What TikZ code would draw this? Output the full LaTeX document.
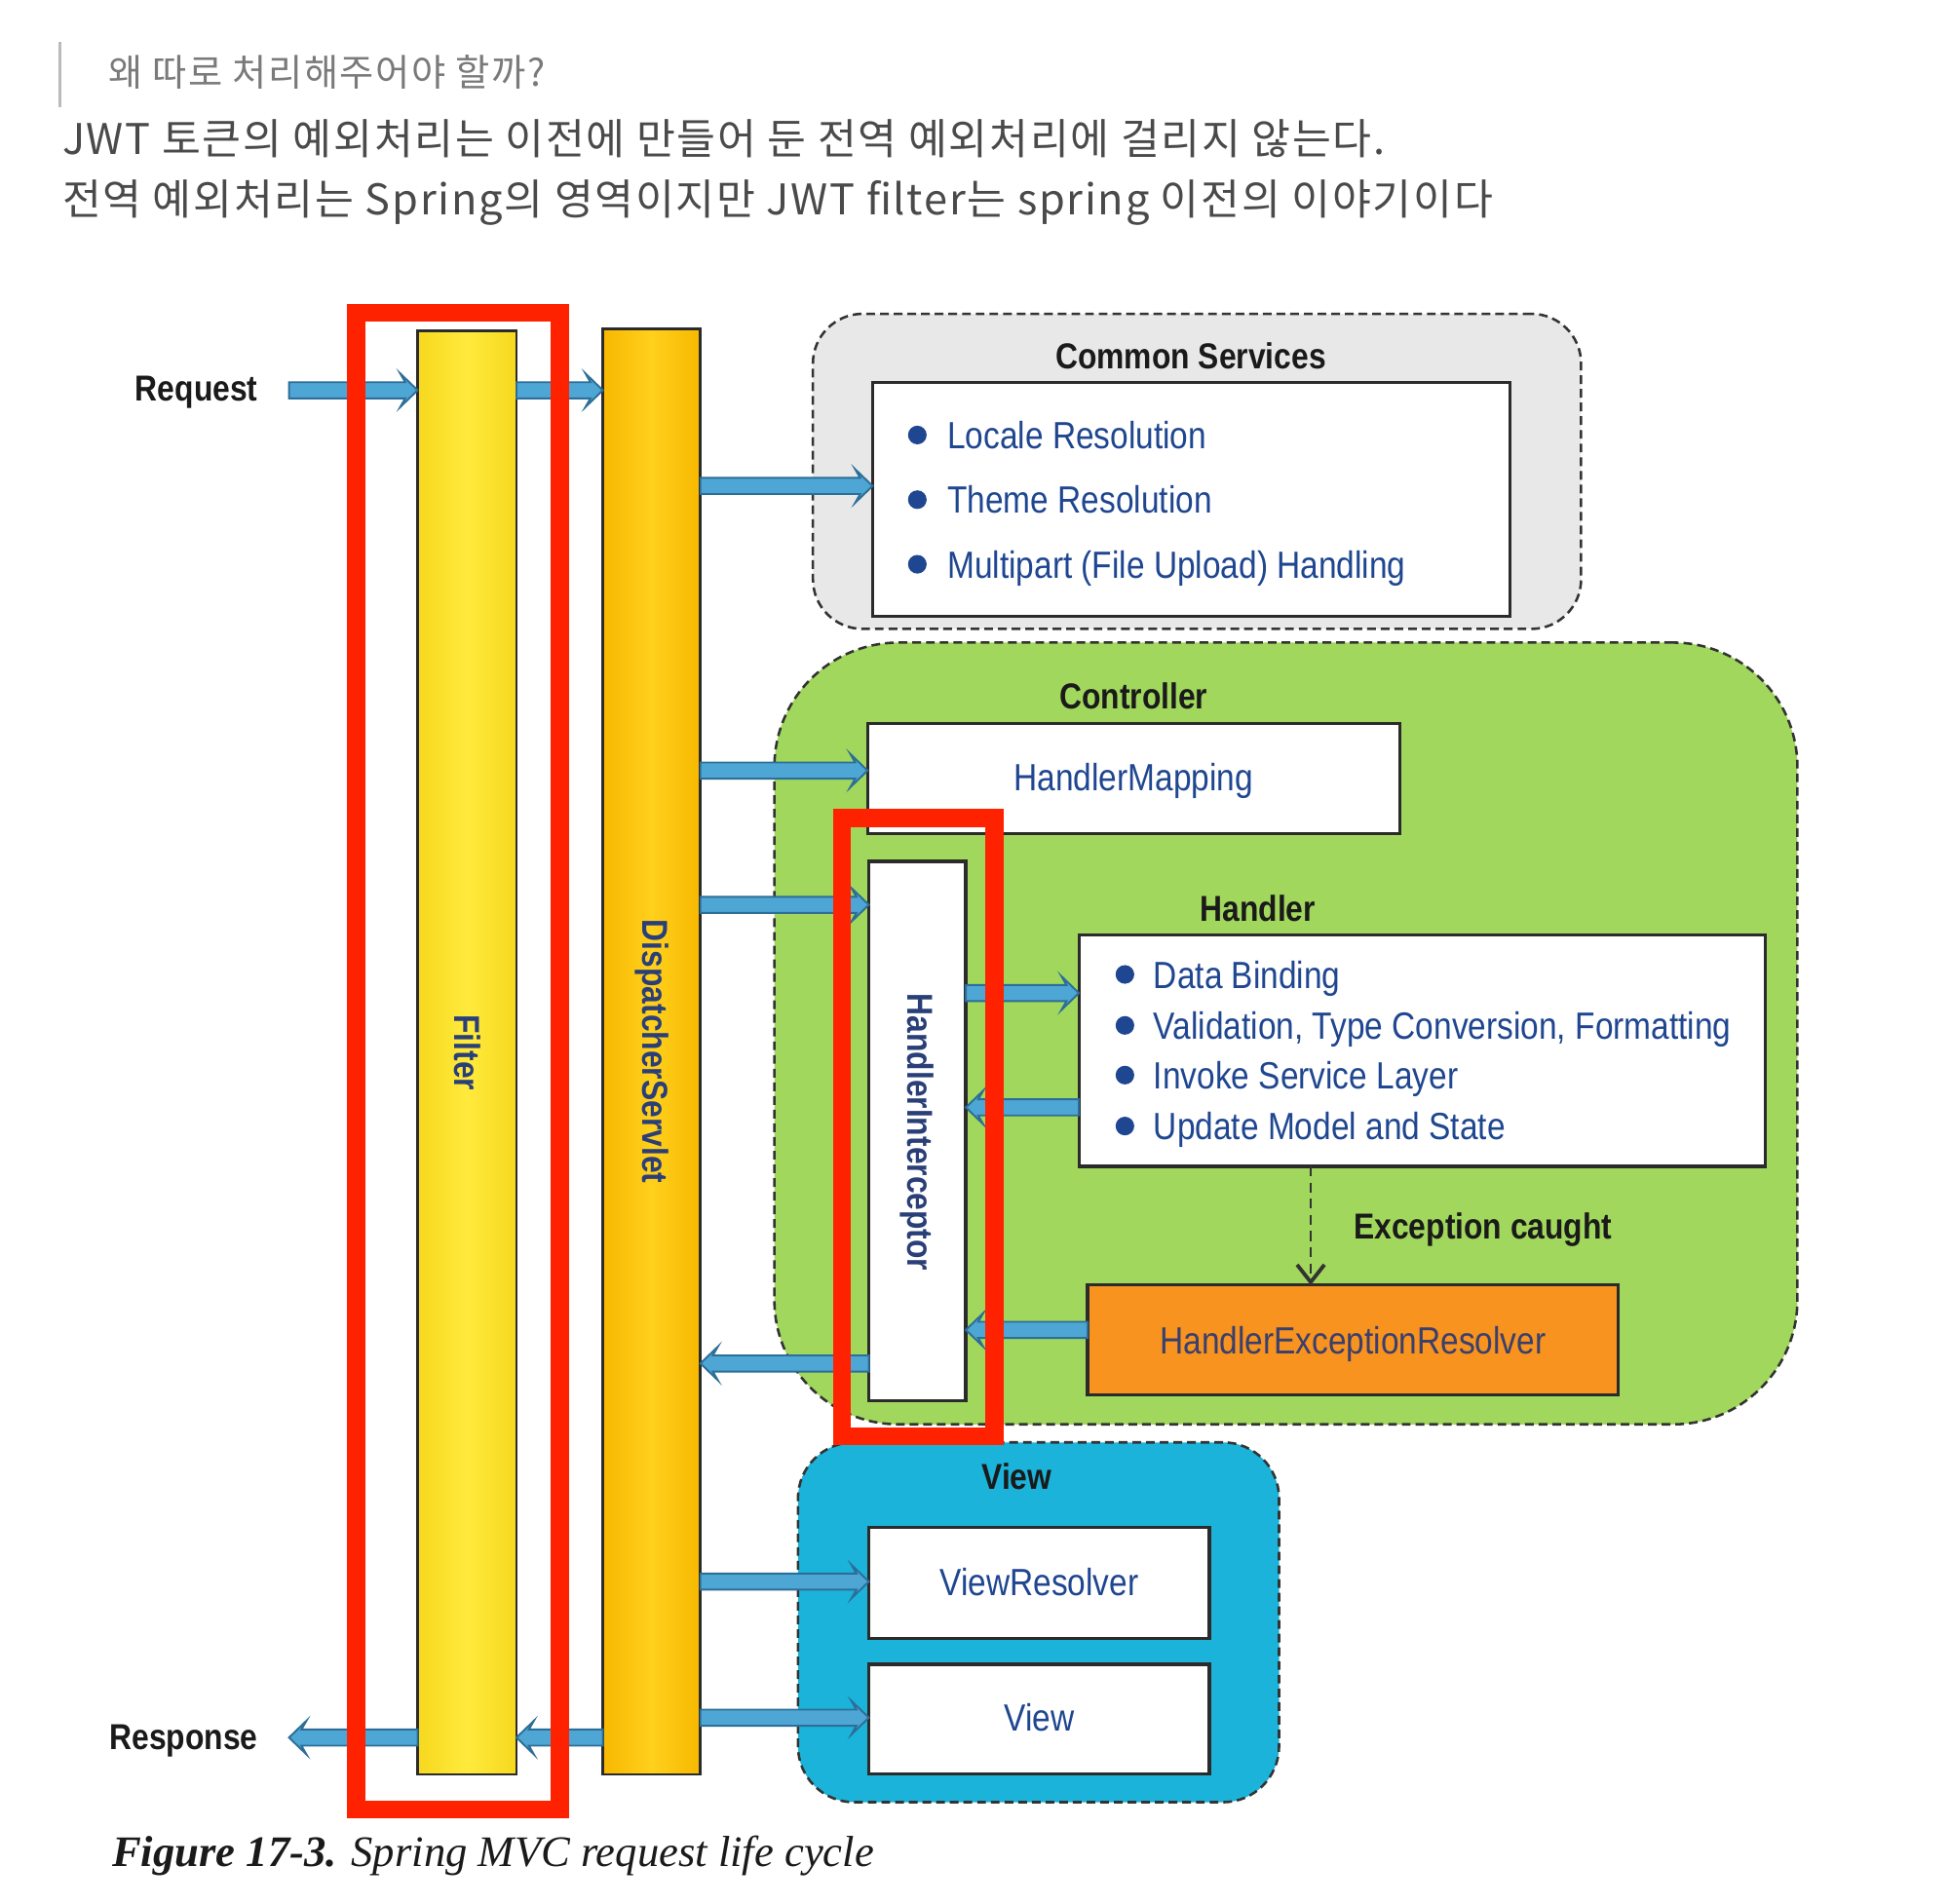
\documentclass[tikz,border=0pt]{standalone}
\usepackage{fontspec}
\setmainfont{Liberation Sans}
\newfontfamily\labf{Liberation Sans}[FakeStretch=0.86]
\newfontfamily\cjk{Noto Sans CJK KR}[LetterSpace=4]
\newfontfamily\capf{Liberation Serif}
\usetikzlibrary{calc,arrows.meta}
\definecolor{arrowfill}{HTML}{4EA6D4}
\definecolor{arrowline}{HTML}{2D6E98}
\definecolor{hlred}{HTML}{FF2200}
\definecolor{boxline}{HTML}{2B2B2B}
\definecolor{grpline}{HTML}{333333}
\definecolor{lblack}{HTML}{1A1A1A}
\definecolor{tblue}{HTML}{1F4690}
\definecolor{navy}{HTML}{2A3F78}
\definecolor{greenbg}{HTML}{A0D75C}
\definecolor{cyanbg}{HTML}{1BB3DA}
\definecolor{graybg}{HTML}{E8E8E8}
\definecolor{orangebx}{HTML}{F7931E}
\definecolor{yelA}{HTML}{F6D81E}
\definecolor{yelB}{HTML}{FFEA3C}
\definecolor{orA}{HTML}{F7B800}
\definecolor{orB}{HTML}{FFD01C}
\definecolor{subgray}{HTML}{7A7A7A}
\definecolor{txtgray}{HTML}{4A4A4A}
\definecolor{bargray}{HTML}{BBBBBB}
\definecolor{herTxt}{HTML}{3A3F6E}
\newcommand\barrow[2]{%
  \path[barrowsty] let \p1=(#1), \p2=(#2), \n1={ifthenelse(\x2>\x1,1,-1)} in
   (\x1,{\y1+6.5pt}) -- ({\x2-\n1*10pt},{\y1+6.5pt}) -- ({\x2-\n1*14pt},{\y1+13.5pt})
   -- (\x2,\y1) -- ({\x2-\n1*14pt},{\y1-13.5pt}) -- ({\x2-\n1*10pt},{\y1-6.5pt})
   -- (\x1,{\y1-6.5pt}) -- cycle;}
\begin{document}
\begin{tikzpicture}[x=1pt,y=-1pt,
  barrowsty/.style={fill=arrowfill,draw=arrowline,line width=1.5pt,line join=miter},
  box/.style={draw=boxline,line width=2.5pt,fill=white,inner sep=0pt,outer sep=0pt},
  grp/.style={draw=grpline,dash pattern=on 7pt off 4pt,line width=2pt,inner sep=0pt,outer sep=0pt,rounded corners=#1},
  bar/.style={draw=boxline,line width=2pt,inner sep=0pt,outer sep=0pt},
  blab/.style={font=\labf\bfseries\fontsize{29}{34}\selectfont,text=lblack,inner sep=0pt},
  tlab/.style={font=\labf\fontsize{30.5}{36}\selectfont,text=tblue,inner sep=0pt},
  vlab/.style={font=\labf\bfseries\fontsize{29}{34}\selectfont,text=navy,inner sep=0pt,rotate=-90},
  bul/.style={circle,fill=tblue,minimum size=15pt,inner sep=0pt},
  redhl/.style={draw=hlred,line width=14.5pt,inner sep=0pt,outer sep=0pt},
  hdr/.style={anchor=base west,inner sep=0pt,font=\cjk\fontsize{34}{40}\selectfont,text=txtgray}
]
\useasboundingbox (0,0) rectangle (1568,1531.2);
\fill[white] (0,0) rectangle (1568,1531.2);

% header
\draw[bargray,line width=2pt] (48,34) -- (48,86);
\node[hdr,font=\cjk\fontsize{30}{34}\selectfont,text=subgray] (h1) at (87,69) {왜 따로 처리해주어야 할까?};
\node[hdr] (h2) at (50,124) {JWT 토큰의 예외처리는 이전에 만들어 둔 전역 예외처리에 걸리지 않는다.};
\node[hdr] (h3) at (50,173) {전역 예외처리는 Spring의 영역이지만 JWT filter는 spring 이전의 이야기이다};

% group containers
\node[grp=40pt,fill=graybg,minimum width=618pt,minimum height=253.5pt] (common) at (963,379.25) {};
\node[grp=100pt,fill=greenbg,minimum width=823pt,minimum height=629pt] (ctrl) at (1034.5,831.5) {};
\node[grp=45pt,fill=cyanbg,minimum width=387pt,minimum height=289.5pt] (viewgrp) at (835.5,1305.25) {};

% vertical bars
\node[bar,left color=yelA,right color=yelA,middle color=yelB,minimum width=79.5pt,minimum height=1161.5pt] (filter) at (375.75,846.75) {};
\node[bar,left color=orA,right color=orA,middle color=orB,minimum width=78.5pt,minimum height=1163pt] (disp) at (524.25,846) {};
\node[vlab] (filtert) at (375.75,847) {Filter};
\node[vlab] (dispt) at (524.25,846) {DispatcherServlet};

% boxes
\node[box,minimum width=513pt,minimum height=188pt] (cinner) at (958.5,402) {};
\node[box,minimum width=428pt,minimum height=89pt] (hmap) at (912,626.5) {};
\node[box,minimum width=78pt,minimum height=434pt] (hint) at (738,910) {};
\node[box,minimum width=552pt,minimum height=186pt] (handler) at (1144,845.5) {};
\node[box,fill=orangebx,minimum width=427pt,minimum height=88.5pt] (her) at (1088.5,1078.25) {};
\node[box,minimum width=274pt,minimum height=89pt] (vres) at (836,1273.5) {};
\node[box,minimum width=274pt,minimum height=88pt] (vbox) at (836,1383) {};
\node[vlab] (hintt) at (738,911) {HandlerInterceptor};

% titles
\node[blab,anchor=base east] (req) at (207.5,322.7) {Request};
\node[blab,anchor=base east] (resp) at (207.5,1408) {Response};
\node[blab,anchor=base] (commont) at (958,297) {Common Services};
\node[blab,anchor=base] (ctrlt) at (912,570) {Controller};
\node[blab,anchor=base] (handlert) at (1012,741) {Handler};
\node[blab,anchor=base] (viewt) at (818,1198) {View};
\node[blab,anchor=base west] (exc) at (1089,997) {Exception caught};

% bullet lists
\node[bul] (b1) at (738,350) {};
\node[bul] (b2) at (738,402) {};
\node[bul] (b3) at (738,454) {};
\node[tlab,anchor=base west] (l1) at (762,361) {Locale Resolution};
\node[tlab,anchor=base west] (l2) at (762,413) {Theme Resolution};
\node[tlab,anchor=base west] (l3) at (762,465) {Multipart (File Upload) Handling};
\node[bul] (b4) at (905,784) {};
\node[bul] (b5) at (905,825) {};
\node[bul] (b6) at (905,865) {};
\node[bul] (b7) at (905,906) {};
\node[tlab,anchor=base west] (d1) at (928,795) {Data Binding};
\node[tlab,anchor=base west] (d2) at (928,836) {Validation, Type Conversion, Formatting};
\node[tlab,anchor=base west] (d3) at (928,876) {Invoke Service Layer};
\node[tlab,anchor=base west] (d4) at (928,917) {Update Model and State};

% box labels
\node[tlab,anchor=base] (hmapt) at (912,636) {HandlerMapping};
\node[tlab,anchor=base,text=herTxt] (hert) at (1088.5,1089) {HandlerExceptionResolver};
\node[tlab,anchor=base] (vrest) at (836,1284) {ViewResolver};
\node[tlab,anchor=base] (vboxt) at (836,1393) {View};

% free ends
\coordinate (reqs) at (232.5,314);
\coordinate (rese) at (232.5,1398);

% block arrows
\barrow{reqs}{filter.west |- reqs}
\barrow{filter.east |- reqs}{disp.west |- reqs}
\barrow{disp.east |- 0,391}{cinner.west |- 0,391}
\barrow{disp.east |- 0,620}{hmap.west |- 0,620}
\barrow{disp.east |- 0,728}{hint.west |- 0,728}
\barrow{hint.east |- 0,799}{handler.west |- 0,799}
\barrow{handler.west |- 0,891}{hint.east |- 0,891}
\barrow{her.west |- 0,1070}{hint.east |- 0,1070}
\barrow{hint.west |- 0,1097}{disp.east |- 0,1097}
\barrow{disp.east |- 0,1272.5}{vres.west |- 0,1272.5}
\barrow{disp.east |- 0,1382}{vbox.west |- 0,1382}
\barrow{disp.west |- 0,1398}{filter.east |- 0,1398}
\barrow{filter.west |- 0,1398}{rese}

% exception dashed arrow
\draw[grpline,line width=2pt,dash pattern=on 8pt off 5pt,-{Straight Barb[length=14pt,width=22pt,line width=3pt]}]
  (handler.south -| 1054.5,0) -- (her.north -| 1054.5,0);

% red highlights
\node[redhl,minimum width=164pt,minimum height=1204.5pt] (red1) at (368.5,853.75) {};
\node[redhl,minimum width=122.5pt,minimum height=497.5pt] (red2) at (738.75,906.75) {};

% caption
\node[anchor=base west,inner sep=0pt,font=\capf\fontsize{35}{40}\selectfont,text=lblack] (cap) at (90,1502)
  {\textbf{\textit{Figure 17-3.}} \textit{Spring MVC request life cycle}};
\end{tikzpicture}
\end{document}
